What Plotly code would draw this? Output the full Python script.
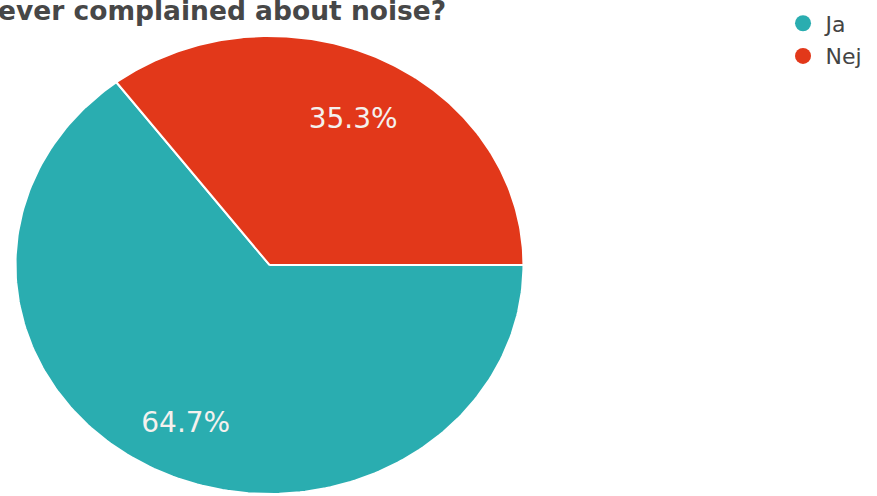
import numpy as np
import plotly.graph_objects as go

# Survey answers and their shares (percent)
labels = ["Ja", "Nej"]
shares = [64.7, 35.3]
colors = ["#2AADB0", "#E2381A"]
title_text = "ever complained about noise?"

fig = go.Figure()

# Wedges on a unit circle; first slice starts at 3 o'clock and runs clockwise
start = 0.0
label_r = 0.74      # radial position of the percent labels
label_dy = -0.035   # small downward nudge so the glyphs sit centred
for lab, val, col in zip(labels, shares, colors):
    sweep = val / sum(shares) * 2 * np.pi
    theta = np.linspace(start, start - sweep, 200)
    xs = np.concatenate([[0.0], np.cos(theta), [0.0]])
    ys = np.concatenate([[0.0], np.sin(theta), [0.0]])
    fig.add_trace(go.Scatter(
        x=xs, y=ys, mode="lines", fill="toself", fillcolor=col,
        line=dict(color="white", width=2), hoverinfo="skip",
        showlegend=False,
    ))
    mid = start - sweep / 2
    fig.add_trace(go.Scatter(
        x=[label_r * np.cos(mid)], y=[label_r * np.sin(mid) + label_dy],
        mode="text", text=[f"{val:.1f}%"],
        textfont=dict(family="DejaVu Sans", size=28, color="#F4F1EE"),
        hoverinfo="skip", showlegend=False,
    ))
    start -= sweep

# Legend entries drawn as round markers
for lab, col in zip(labels, colors):
    fig.add_trace(go.Scatter(
        x=[None], y=[None], mode="markers", name=lab,
        marker=dict(symbol="circle", size=17, color=col),
        legendgroup=lab,
    ))

fig.add_annotation(
    text=title_text, xref="paper", yref="paper", x=-0.005, y=1.014,
    xanchor="left", yanchor="top", showarrow=False,
    font=dict(family="DejaVu Sans", size=26.5, color="#474747", weight="bold"),
)

fig.update_layout(
    width=877, height=496,
    margin=dict(l=0, r=0, t=0, b=0),
    paper_bgcolor="white", plot_bgcolor="white",
    xaxis=dict(range=[-1.061, 2.392], visible=False, fixedrange=True),
    yaxis=dict(range=[-1.009, 1.157], visible=False, fixedrange=True),
    legend=dict(
        x=0.890, y=0.995, xanchor="left", yanchor="top",
        font=dict(family="DejaVu Sans", size=22, color="#444444"),
        traceorder="grouped", tracegroupgap=1, itemwidth=35,
        itemsizing="trace", bgcolor="rgba(0,0,0,0)",
    ),
    showlegend=True,
)

fig.write_html("out.html")
